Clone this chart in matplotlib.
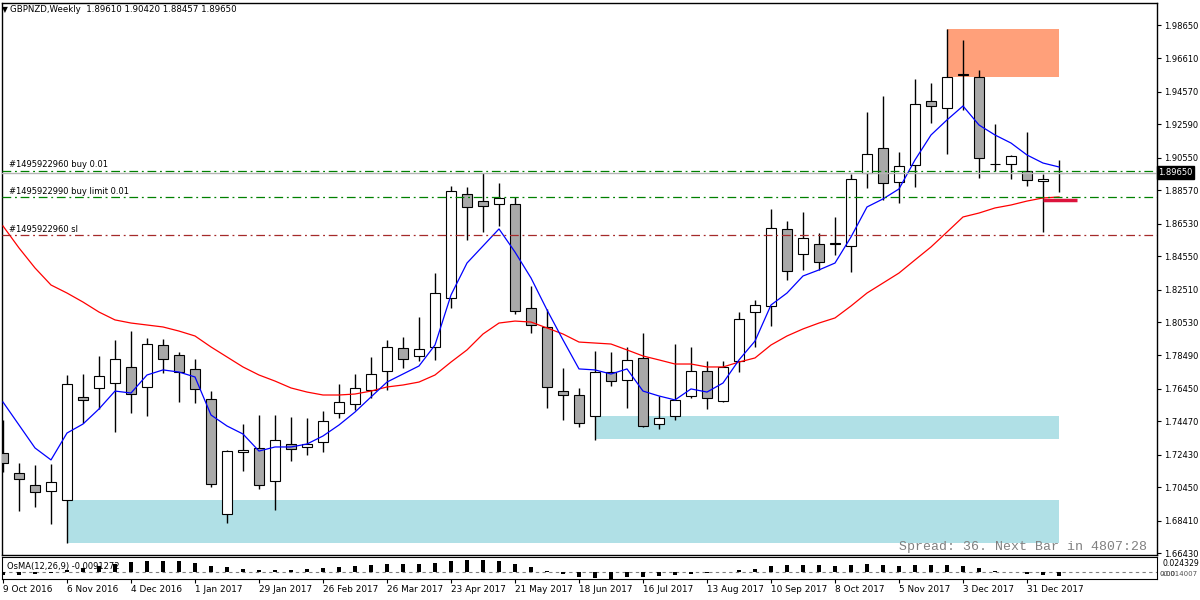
import matplotlib
matplotlib.use("Agg")
import matplotlib.pyplot as plt
import matplotlib.transforms as mtransforms
from matplotlib.patches import Rectangle
import numpy as np

# GBPNZD weekly candles, 9 Oct 2016 .. 14 Jan 2018 (one entry per week)
opens = [1.7254, 1.7132, 1.7059, 1.7022, 1.6968, 1.7596, 1.7651, 1.7681, 1.7779, 1.7657,
         1.7913, 1.7852, 1.7767, 1.7584, 1.6882, 1.7260, 1.7285, 1.7083, 1.7309, 1.7291,
         1.7321, 1.7498, 1.7553, 1.7639, 1.7754, 1.7895, 1.7846, 1.7901, 1.8200, 1.8834,
         1.8791, 1.8773, 1.8773, 1.8139, 1.8023, 1.7632, 1.7608, 1.7480, 1.7748, 1.7700,
         1.7834, 1.7431, 1.7480, 1.7602, 1.7754, 1.7571, 1.7815, 1.8114, 1.8151, 1.8621,
         1.8468, 1.8529, 1.8531, 1.8517, 1.8962, 1.9115, 1.8907, 1.9011, 1.9401, 1.9359,
         1.9566, 1.9548, 1.9018, 1.9017, 1.8974, 1.8913, 1.89610]
highs = [1.7456, 1.7193, 1.7181, 1.7187, 1.7730, 1.7736, 1.7846, 1.7944, 1.7998, 1.7956,
         1.7950, 1.7870, 1.7828, 1.7632, 1.7273, 1.7431, 1.7486, 1.7486, 1.7474, 1.7468,
         1.7510, 1.7675, 1.7736, 1.7840, 1.7944, 1.7962, 1.8084, 1.8352, 1.8883, 1.8877,
         1.8962, 1.8901, 1.8816, 1.8273, 1.8133, 1.7773, 1.7651, 1.7876, 1.7870, 1.7901,
         1.7986, 1.7602, 1.7919, 1.7901, 1.7815, 1.7815, 1.8114, 1.8188, 1.8743, 1.8669,
         1.8724, 1.8596, 1.8694, 1.8956, 1.9334, 1.9432, 1.9090, 1.9536, 1.9511, 1.9841,
         1.9774, 1.9591, 1.9261, 1.9072, 1.9212, 1.8956, 1.90420]
lows = [1.7138, 1.6900, 1.6925, 1.6821, 1.6705, 1.7437, 1.7523, 1.7382, 1.7498, 1.7480,
        1.7742, 1.7565, 1.7559, 1.7047, 1.6827, 1.7144, 1.7035, 1.6907, 1.7205, 1.7242,
        1.7260, 1.7468, 1.7517, 1.7590, 1.7639, 1.7773, 1.7815, 1.7822, 1.8139, 1.8554,
        1.8602, 1.8639, 1.8102, 1.7986, 1.7529, 1.7456, 1.7413, 1.7334, 1.7663, 1.7529,
        1.7413, 1.7401, 1.7456, 1.7590, 1.7523, 1.7565, 1.7748, 1.7901, 1.8029, 1.8310,
        1.8371, 1.8371, 1.8462, 1.8358, 1.8871, 1.8798, 1.8779, 1.8877, 1.9267, 1.9078,
        1.9347, 1.8932, 1.8974, 1.8926, 1.8883, 1.8602, 1.88457]
closes = [1.7193, 1.7096, 1.7016, 1.7077, 1.7675, 1.7578, 1.7724, 1.7828, 1.7614, 1.7919,
          1.7828, 1.7748, 1.7645, 1.7065, 1.7266, 1.7273, 1.7059, 1.7334, 1.7279, 1.7309,
          1.7449, 1.7565, 1.7651, 1.7736, 1.7901, 1.7828, 1.7889, 1.8230, 1.8852, 1.8755,
          1.8761, 1.8810, 1.8120, 1.8035, 1.7657, 1.7608, 1.7437, 1.7748, 1.7693, 1.7822,
          1.7419, 1.7468, 1.7578, 1.7754, 1.7590, 1.7779, 1.8072, 1.8157, 1.8627, 1.8364,
          1.8566, 1.8419, 1.8533, 1.8926, 1.9078, 1.8901, 1.9005, 1.9383, 1.9371, 1.9548,
          1.9563, 1.9054, 1.9016, 1.9066, 1.8920, 1.8926, 1.89650]

ma_fast = [1.7565, 1.7425, 1.7285, 1.7212, 1.7376, 1.7431, 1.7523, 1.7632, 1.7620, 1.7730,
           1.7761, 1.7748, 1.7718, 1.7486, 1.7419, 1.7370, 1.7266, 1.7291, 1.7291, 1.7309,
           1.7358, 1.7425, 1.7504, 1.7596, 1.7687, 1.7736, 1.7785, 1.7913, 1.8218, 1.8413,
           1.8517, 1.8621, 1.8480, 1.8322, 1.8127, 1.7944, 1.7767, 1.7761, 1.7736, 1.7767,
           1.7632, 1.7602, 1.7578, 1.7645, 1.7626, 1.7681, 1.7822, 1.7937, 1.8157, 1.8230,
           1.8334, 1.8371, 1.8413, 1.8572, 1.8755, 1.8804, 1.8865, 1.9042, 1.9194, 1.9286,
           1.9371, 1.9255, 1.9194, 1.9145, 1.9072, 1.9023, 1.8999]
ma_slow = [1.8639, 1.8505, 1.8383, 1.8279, 1.8230, 1.8175, 1.8114, 1.8066, 1.8047, 1.8035,
           1.8023, 1.7998, 1.7968, 1.7901, 1.7840, 1.7779, 1.7730, 1.7693, 1.7651, 1.7626,
           1.7608, 1.7608, 1.7614, 1.7632, 1.7657, 1.7669, 1.7687, 1.7730, 1.7809, 1.7883,
           1.7980, 1.8047, 1.8059, 1.8053, 1.8017, 1.7980, 1.7931, 1.7925, 1.7919, 1.7883,
           1.7846, 1.7822, 1.7797, 1.7797, 1.7779, 1.7779, 1.7809, 1.7834, 1.7913, 1.7968,
           1.8011, 1.8047, 1.8078, 1.8151, 1.8230, 1.8291, 1.8352, 1.8432, 1.8511, 1.8602,
           1.8694, 1.8718, 1.8749, 1.8767, 1.8791, 1.8810, 1.8816]

osma = [-0.0063, -0.0063, -0.0042, -0.0021, 0.0042, 0.0084, 0.0126, 0.0168, 0.0210, 0.0231,
        0.0231, 0.0231, 0.0189, 0.0126, 0.0105, 0.0063, 0.0036, 0.0042, 0.0036, 0.0063,
        0.0084, 0.0105, 0.0126, 0.0147, 0.0168, 0.0168, 0.0168, 0.0189, 0.0231, 0.0243,
        0.0243, 0.0231, 0.0168, 0.0105, 0.0021, -0.0042, -0.0105, -0.0126, -0.0140, -0.0105,
        -0.0105, -0.0084, -0.0063, -0.0042, -0.0021, -0.0006, 0.0042, 0.0063, 0.0126, 0.0147,
        0.0147, 0.0147, 0.0126, 0.0147, 0.0168, 0.0147, 0.0126, 0.0147, 0.0147, 0.0147,
        0.0126, 0.0084, 0.0021, 0.0006, -0.0042, -0.0063, -0.0091]

date_labels = ["9 Oct 2016", "6 Nov 2016", "4 Dec 2016", "1 Jan 2017", "29 Jan 2017",
               "26 Feb 2017", "26 Mar 2017", "23 Apr 2017", "21 May 2017", "18 Jun 2017",
               "16 Jul 2017", "13 Aug 2017", "10 Sep 2017", "8 Oct 2017", "5 Nov 2017",
               "3 Dec 2017", "31 Dec 2017"]
price_ticks = [1.98650, 1.96610, 1.94570, 1.92590, 1.90550, 1.88570, 1.86530, 1.84550,
               1.82510, 1.80530, 1.78490, 1.76450, 1.74470, 1.72430, 1.70450, 1.68410, 1.66430]

bid = 1.89650
buy_price = 1.8976
limit_price = 1.8814
sl_price = 1.8582
limit_marker = 1.8797

# zones: (first week, last week, low, high)
supply_zone = (59, 66, 1.9548, 1.9841)
demand_zones = [(4, 66, 1.6705, 1.6968), (37, 66, 1.7340, 1.7480)]

x = np.arange(len(opens))
o = np.array(opens); c = np.array(closes)

fig = plt.figure(figsize=(12, 6), dpi=100)
ax = fig.add_axes([2 / 1200, 1 - 555 / 600, 1155 / 1200, 552 / 600])
axo = fig.add_axes([2 / 1200, 1 - 579 / 600, 1155 / 1200, 22 / 600])

# zones
for z0, z1, lo, hi in demand_zones:
    ax.add_patch(Rectangle((z0, lo), z1 - z0, hi - lo, facecolor="#B0E0E6", edgecolor="none", zorder=1))
s0, s1, slo, shi = supply_zone
ax.add_patch(Rectangle((s0, slo), s1 - s0, shi - slo, facecolor="#FFA07A", edgecolor="none", zorder=1))

# candles
ax.vlines(x, lows, highs, color="black", lw=1.0, zorder=2)
up = c >= o
body_lo = np.minimum(o, c)
body_h = np.maximum(np.abs(c - o), 0.0002)
ax.bar(x, body_h, bottom=body_lo, width=0.62, color=np.where(up, "white", "#A9A9A9"),
       edgecolor="black", linewidth=0.8, zorder=3)

# moving averages
ax.plot(x, ma_slow, color="#FF0000", lw=0.9, zorder=4)
ax.plot(x, ma_fast, color="#0000FF", lw=0.9, zorder=4)

# order lines
dashdot = (0, (7, 3, 1.5, 3))
ax.axhline(buy_price, color="#008000", lw=0.9, ls=dashdot, zorder=5)
ax.axhline(limit_price, color="#008000", lw=0.9, ls=dashdot, zorder=5)
ax.axhline(sl_price, color="#A52A2A", lw=0.9, ls=dashdot, zorder=5)
ax.axhline(bid, color="#B4B4B4", lw=1.0, zorder=5)
ax.plot([65, 67.1], [limit_marker, limit_marker], color="#DC143C", lw=2.5, zorder=6,
        solid_capstyle="butt")

lab = dict(fontsize=6, color="black", va="bottom", ha="left", zorder=6)
ax.text(0.4, buy_price + 0.0008, "#1495922960 buy 0.01", **lab)
ax.text(0.4, limit_price + 0.0008, "#1495922990 buy limit 0.01", **lab)
ax.text(0.4, sl_price + 0.0008, "#1495922960 sl", **lab)

ax.set_xlim(-0.0625, 72.125)
ax.set_ylim(1.6632, 1.99992)
ax.yaxis.tick_right()
ax.set_yticks(price_ticks)
ax.set_yticklabels([f"{p:.5f}" for p in price_ticks])
ax.tick_params(axis="y", direction="out", length=3, width=0.8, pad=2, labelsize=6)
ax.set_xticks([])
for sp in ax.spines.values():
    sp.set_linewidth(1.0)

trans = mtransforms.blended_transform_factory(ax.transAxes, ax.transData)
ax.text(1.0012, bid, "1.89650", transform=trans, fontsize=6, color="white", va="center", ha="left",
        bbox=dict(boxstyle="square,pad=0.2", fc="black", ec="black"), zorder=7, clip_on=False)

ax.text(0.9913, 0.0145, "Spread: 36. Next Bar in 4807:28", transform=ax.transAxes,
        family="Liberation Mono", fontsize=9.5, color="#808080", ha="right", va="center")

fig.text(2 / 1200, 1 - 10 / 600, "\u25bc", fontsize=5.5, va="center", ha="left")
fig.text(10 / 1200, 1 - 10 / 600, "GBPNZD,Weekly  1.89610 1.90420 1.88457 1.89650",
         fontsize=6.2, va="center", ha="left")

# OsMA panel
axo.bar(x, osma, width=0.19, color="black", zorder=3)
axo.axhline(0, color="#808080", lw=0.8, ls=(0, (3, 3)), zorder=2)
axo.set_xlim(-0.0625, 72.125)
axo.set_ylim(-0.0147, 0.0315)
axo.set_yticks([])
axo.set_xticks(np.arange(0, 65, 4))
axo.set_xticklabels(date_labels, ha="left")
axo.tick_params(axis="x", direction="out", length=3, width=0.8, pad=1.5, labelsize=6.4)
axo.text(0.004, 0.55, "OsMA(12,26,9) -0.0091272", transform=axo.transAxes, fontsize=6,
         va="center", ha="left")
axo.text(1.005, 0.72, "0.024329", transform=axo.transAxes, fontsize=5.6, va="center", ha="left",
         clip_on=False)
axo.text(1.002, 0.22, "0.00", transform=axo.transAxes, fontsize=5.2, va="center", ha="left",
         color="#333333", clip_on=False)
axo.text(1.004, 0.22, "-0.014007", transform=axo.transAxes, fontsize=5.0, va="center", ha="left",
         color="#555555", clip_on=False)

fig.savefig("out.png", dpi=100)
